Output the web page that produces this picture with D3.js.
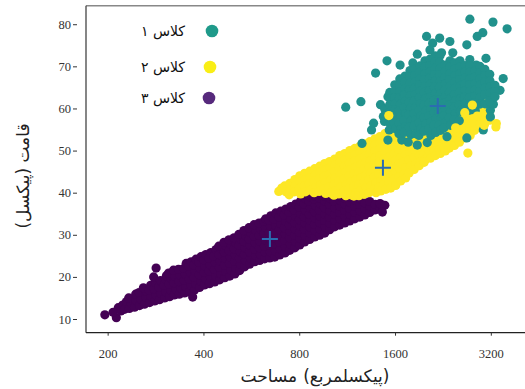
<!DOCTYPE html>
<html>
<head>
<meta charset="utf-8">
<script src="https://cdn.jsdelivr.net/npm/d3@7"></script>
<style>
  body { margin: 0; background: #fff; }
  svg { display: block; }
</style>
</head>
<body>
<div id="chart"></div>
<script>
// [area, height]
const class3Points = [
  [196,11.0],[213,10.3],[216,12.7],[208,11.6],[220,11.9],[223,13.3],[226,12.3],[229,14.1],
  [234,12.5],[237,13.8],[233,15.0],[243,12.8],[246,14.4],[245,15.9],[252,13.2],[255,14.7],[251,16.3],
  [261,13.5],[264,15.1],[263,16.7],[259,17.4],[271,13.9],[274,15.4],[270,16.9],[273,18.0],
  [281,14.3],[284,15.7],[280,17.2],[283,18.7],[279,20.0],[284,22.1],[291,14.6],[294,16.1],[290,17.6],[293,19.1],
  [302,15.0],[305,16.5],[301,18.0],[304,19.5],[306,20.3],[313,15.3],[316,16.8],[312,18.3],[315,19.8],[311,20.9],
  [324,15.7],[327,17.1],[323,18.6],[326,20.1],[322,21.6],[336,15.9],[339,17.4],[335,18.9],[338,20.4],[334,21.8],
  [349,16.2],[352,17.7],[348,19.2],[351,20.6],[347,22.0],[353,23.2],[362,16.5],[365,18.0],[361,19.5],[364,21.0],[360,22.5],[366,23.6],
  [375,16.9],[378,18.4],[374,19.9],[377,21.4],[373,22.9],[379,24.2],[370,15.2],
  [389,17.5],[392,19.0],[388,20.5],[391,22.0],[387,23.5],[393,24.8],[403,18.1],[406,19.6],[402,21.1],[405,22.6],[401,24.1],[407,25.3],
  [418,18.4],[421,19.9],[417,21.4],[420,22.9],[416,24.4],[422,25.8],[434,18.8],[437,20.3],[433,21.8],[436,23.4],[432,24.9],[438,26.5],
  [450,19.3],[453,20.8],[449,22.3],[452,23.8],[448,25.3],[454,26.8],[447,27.3],
  [467,19.8],[470,21.3],[466,22.8],[469,24.4],[465,25.9],[471,27.4],[464,28.2],
  [484,20.2],[487,21.7],[483,23.2],[486,24.7],[482,26.2],[488,27.7],[481,28.8],
  [502,20.7],[505,22.2],[501,23.7],[504,25.2],[500,26.7],[506,28.1],[499,29.3],
  [520,21.5],[523,23.0],[519,24.5],[522,26.0],[518,27.5],[524,29.0],[517,30.1],
  [539,22.4],[542,23.9],[538,25.4],[541,26.9],[537,28.4],[543,29.8],[536,31.0],
  [559,23.0],[562,24.5],[558,26.0],[561,27.5],[557,29.0],[563,30.5],[556,31.7],
  [580,23.6],[583,25.1],[579,26.6],[582,28.1],[578,29.6],[584,31.1],[577,32.4],
  [601,23.9],[604,25.4],[600,26.9],[603,28.4],[599,29.9],[605,31.4],[598,32.8],
  [623,24.3],[626,25.8],[622,27.3],[625,28.8],[621,30.3],[627,31.8],[620,33.2],[628,33.8],
  [646,24.5],[649,26.0],[645,27.5],[648,29.0],[644,30.5],[650,32.0],[643,33.5],[651,34.5],
  [670,24.7],[673,26.2],[669,27.7],[672,29.2],[668,30.7],[674,32.2],[667,33.7],[675,35.2],
  [695,25.2],[698,26.7],[694,28.2],[697,29.7],[693,31.2],[699,32.7],[692,34.2],[700,35.6],
  [721,25.7],[724,27.2],[720,28.7],[723,30.2],[719,31.7],[725,33.2],[718,34.7],[726,36.1],
  [747,26.3],[750,27.8],[746,29.3],[749,30.8],[745,32.3],[751,33.8],[744,35.3],[752,36.7],
  [775,26.9],[778,28.4],[774,29.9],[777,31.4],[773,32.9],[779,34.4],[772,35.9],[780,37.3],
  [803,27.6],[806,29.1],[802,30.6],[805,32.1],[801,33.6],[807,35.1],[800,36.6],[808,38.0],
  [832,28.3],[835,29.8],[831,31.3],[834,32.8],[830,34.3],[836,35.8],[829,37.3],[837,38.6],
  [863,28.9],[866,30.4],[862,31.9],[865,33.4],[861,34.9],[867,36.4],[860,37.9],[868,38.9],
  [895,29.5],[898,31.0],[894,32.5],[897,34.0],[893,35.5],[899,37.0],[892,38.5],[900,39.1],
  [928,29.9],[931,31.4],[927,32.9],[930,34.4],[926,35.9],[932,37.4],[925,38.8],
  [962,30.4],[965,31.9],[961,33.4],[964,34.9],[960,36.4],[966,37.9],[959,39.3],
  [997,31.2],[1000,32.7],[996,34.2],[999,35.7],[995,37.2],[1001,38.6],
  [1034,31.9],[1037,33.4],[1033,34.9],[1036,36.4],[1032,37.9],[1038,39.3],
  [1072,32.3],[1075,33.8],[1071,35.3],[1074,36.8],[1070,38.3],[1076,39.2],
  [1112,32.8],[1115,34.3],[1111,35.8],[1114,37.3],[1110,38.7],
  [1153,33.3],[1156,34.8],[1152,36.3],[1155,37.8],[1151,38.9],
  [1196,33.8],[1199,35.3],[1195,36.8],[1198,38.2],[1240,34.2],[1243,35.7],[1239,37.2],[1242,38.4],
  [1286,34.7],[1289,36.1],[1285,37.6],[1333,35.3],[1336,36.8],[1332,37.9],
  [1383,35.9],[1386,37.2],[1433,36.5],[1436,37.4],[1486,37.0],[1460,35.4]
];

const class2Points = [
  [705,41.1],[690,40.3],[720,41.6],[726,40.2],[747,42.2],[750,40.6],[744,39.5],
  [775,43.1],[778,41.6],[773,40.2],[803,44.0],[806,42.5],[801,41.0],[808,39.7],
  [832,44.6],[835,43.1],[830,41.6],[837,40.2],[863,45.1],[866,43.6],[861,42.1],[868,40.6],
  [895,45.7],[898,44.2],[893,42.7],[900,41.2],[891,40.0],[928,46.3],[931,44.8],[926,43.3],[933,41.8],[924,40.3],
  [962,46.9],[965,45.4],[960,43.9],[967,42.4],[958,40.9],[969,39.8],
  [997,47.4],[1000,45.9],[995,44.4],[1002,42.9],[993,41.4],[1004,39.9],
  [1034,48.0],[1037,46.5],[1032,45.0],[1039,43.5],[1030,42.0],[1041,40.5],[1028,39.4],
  [1072,48.8],[1075,47.3],[1070,45.8],[1077,44.3],[1068,42.8],[1079,41.3],[1066,39.7],
  [1112,49.3],[1115,47.8],[1110,46.3],[1117,44.8],[1108,43.3],[1119,41.8],[1106,40.3],[1121,39.3],
  [1153,50.0],[1156,48.5],[1151,47.0],[1158,45.5],[1149,44.0],[1160,42.5],[1147,41.0],[1162,39.5],
  [1196,50.5],[1199,49.0],[1194,47.5],[1201,46.0],[1192,44.5],[1203,43.0],[1190,41.5],[1205,40.0],[1188,39.2],
  [1240,51.0],[1243,49.5],[1238,48.0],[1245,46.5],[1236,45.0],[1247,43.5],[1234,42.0],[1249,40.5],[1232,39.3],
  [1286,51.6],[1289,50.1],[1284,48.6],[1291,47.1],[1282,45.6],[1293,44.1],[1280,42.6],[1295,41.1],[1278,39.6],
  [1333,52.1],[1336,50.6],[1331,49.1],[1338,47.6],[1329,46.1],[1340,44.6],[1327,43.1],[1342,41.6],[1325,40.0],
  [1383,52.8],[1386,51.3],[1381,49.8],[1388,48.3],[1379,46.8],[1390,45.3],[1377,43.8],[1392,42.3],[1375,40.8],[1394,40.0],
  [1433,53.3],[1436,51.8],[1431,50.3],[1438,48.8],[1429,47.3],[1440,45.8],[1427,44.3],[1442,42.8],[1425,41.3],[1444,40.4],
  [1486,54.0],[1489,52.5],[1484,51.0],[1491,49.5],[1482,48.0],[1493,46.5],[1480,45.0],[1495,43.5],[1478,42.0],[1497,40.8],
  [1540,54.5],[1543,53.0],[1538,51.5],[1545,50.0],[1536,48.5],[1547,47.0],[1534,45.5],[1549,44.0],[1532,42.5],[1551,41.1],
  [1597,55.2],[1600,53.7],[1595,52.2],[1602,50.7],[1593,49.2],[1604,47.7],[1591,46.2],[1606,44.7],[1589,43.2],[1608,41.7],
  [1656,55.8],[1659,54.3],[1654,52.8],[1661,51.3],[1652,49.8],[1663,48.3],[1650,46.8],[1665,45.3],[1648,43.8],[1667,42.8],
  [1717,56.4],[1720,54.9],[1715,53.4],[1722,51.9],[1713,50.4],[1724,48.9],[1711,47.4],[1726,45.9],[1709,44.4],[1728,43.5],
  [1780,56.8],[1783,55.3],[1778,53.8],[1785,52.3],[1776,50.8],[1787,49.3],[1774,47.8],[1789,46.3],[1772,44.7],
  [1846,57.3],[1849,55.8],[1844,54.3],[1851,52.8],[1842,51.3],[1853,49.8],[1840,48.3],[1855,46.8],[1838,45.5],
  [1914,57.8],[1917,56.3],[1912,54.8],[1919,53.3],[1910,51.8],[1921,50.3],[1908,48.8],[1923,47.3],[1906,46.4],
  [1984,58.3],[1987,56.8],[1982,55.3],[1989,53.8],[1980,52.3],[1991,50.8],[1978,49.3],[1993,47.9],[1976,47.2],
  [2058,58.7],[2061,57.2],[2056,55.7],[2063,54.2],[2054,52.7],[2065,51.2],[2052,49.7],[2067,48.2],
  [2134,59.0],[2137,57.5],[2132,56.0],[2139,54.5],[2130,53.0],[2141,51.5],[2128,50.0],[2143,48.8],
  [2212,59.2],[2215,57.7],[2210,56.2],[2217,54.7],[2208,53.2],[2219,51.7],[2206,50.2],[2221,49.3],
  [2294,59.7],[2297,58.2],[2292,56.7],[2299,55.2],[2290,53.7],[2301,52.2],[2288,50.7],[2303,49.9],
  [2378,59.9],[2381,58.4],[2376,56.9],[2383,55.4],[2374,53.9],[2385,52.4],[2372,50.6],
  [2466,60.2],[2469,58.7],[2464,57.2],[2471,55.7],[2462,54.2],[2473,52.7],[2460,51.2],
  [2557,60.4],[2560,58.9],[2555,57.4],[2562,55.9],[2553,54.4],[2564,52.9],[2551,52.0],
  [2651,60.6],[2654,59.1],[2649,57.6],[2656,56.1],[2647,54.6],[2658,53.0],
  [2749,60.7],[2752,59.2],[2747,57.7],[2754,56.2],[2745,54.7],[2756,53.6],[2710,49.4],
  [2850,60.9],[2853,59.4],[2848,57.9],[2855,56.4],[2846,54.8],
  [2955,61.0],[2958,59.5],[2953,58.0],[2960,56.5],[2951,55.5],
  [3064,61.1],[3067,59.6],[3062,58.1],[3069,56.6],[3176,61.1],[3179,59.6],[3174,58.1],[3181,57.2],[3320,55.6]
];

// yellow points that sit over the teal cluster in the picture
const class2Front = [[1530,58.3],[2800,60.8],[2650,59.0],[2900,58.2],[3050,56.0],[3330,56.4],[2480,55.4]];

const class1Points = [
  [2750,81.2],[3250,80.5],[3600,78.9],[3020,78.0],[2900,77.1],[2690,75.1],[2010,77.1],[2210,76.7],[2380,75.9],[2100,75.5],
  [1880,72.9],[2060,73.9],[2240,73.2],[2430,73.2],[1510,71.3],[1390,68.4],[1660,70.3],[1820,70.8],[3090,71.9],[2880,70.3],
  [3500,67.1],[3190,59.6],[1120,60.3],[1250,61.6],[1520,62.8],[1350,54.9],[1260,51.7],[1470,58.1],[1880,51.3],
  [1370,56.5],[1520,52.5],[1680,52.5],[2330,53.3],[2690,53.0],[3030,54.9],[3190,58.0],[1760,52.0],[2020,51.9],
  [3420,64.3],[3260,61.0],[1440,60.9],
  [1486,59.8],[1489,58.2],[1483,56.9],
  [1540,63.8],[1543,62.3],[1538,60.8],[1545,59.3],[1536,57.8],[1547,56.3],[1534,54.9],
  [1597,65.6],[1600,64.1],[1595,62.6],[1602,61.1],[1593,59.6],[1604,58.1],[1591,56.6],[1606,55.2],
  [1656,67.0],[1654,65.5],[1661,64.0],[1652,62.5],[1663,61.0],[1650,59.5],[1665,58.0],[1648,56.5],[1667,55.0],[1646,54.0],
  [1720,67.7],[1715,66.2],[1722,64.7],[1713,63.2],[1724,61.7],[1711,60.2],[1726,58.7],[1709,57.2],[1728,55.7],[1707,54.3],
  [1783,69.0],[1778,67.5],[1785,66.0],[1776,64.5],[1787,63.0],[1774,61.5],[1789,60.0],[1772,58.5],[1791,57.0],[1770,55.5],[1793,53.8],
  [1849,69.3],[1844,67.8],[1851,66.3],[1842,64.8],[1853,63.3],[1840,61.8],[1855,60.3],[1838,58.8],[1857,57.3],[1836,55.8],[1859,54.0],
  [1917,70.1],[1912,68.6],[1919,67.1],[1910,65.6],[1921,64.1],[1908,62.6],[1923,61.1],[1906,59.6],[1925,58.1],[1904,56.6],[1927,55.1],[1902,53.6],
  [1987,71.3],[1982,69.8],[1989,68.3],[1980,66.8],[1991,65.3],[1978,63.8],[1993,62.3],[1976,60.8],[1995,59.3],[1974,57.8],[1997,56.3],[1972,54.6],
  [2061,71.7],[2056,70.2],[2063,68.7],[2054,67.2],[2065,65.7],[2052,64.2],[2067,62.7],[2050,61.2],[2069,59.7],[2048,58.2],[2071,56.7],[2046,55.2],[2073,53.6],
  [2137,72.5],[2132,71.0],[2139,69.5],[2130,68.0],[2141,66.5],[2128,65.0],[2143,63.5],[2126,62.0],[2145,60.5],[2124,59.0],[2147,57.5],[2122,56.0],[2149,54.3],
  [2215,72.5],[2210,71.0],[2217,69.5],[2208,68.0],[2219,66.5],[2206,65.0],[2221,63.5],[2204,62.0],[2223,60.5],[2202,59.0],[2225,57.5],[2200,56.0],[2227,54.8],
  [2292,70.3],[2299,68.8],[2290,67.3],[2301,65.8],[2288,64.3],[2303,62.8],[2286,61.3],[2305,59.8],[2284,58.3],[2307,56.8],[2282,55.4],
  [2381,71.3],[2376,69.8],[2383,68.3],[2374,66.8],[2385,65.3],[2372,63.8],[2387,62.3],[2370,60.8],[2389,59.3],[2368,57.8],[2391,56.0],
  [2469,70.8],[2464,69.3],[2471,67.8],[2462,66.3],[2473,64.8],[2460,63.3],[2475,61.8],[2458,60.3],[2477,58.8],[2456,57.3],
  [2560,71.3],[2555,69.8],[2562,68.3],[2553,66.8],[2564,65.3],[2551,63.8],[2566,62.3],[2549,60.8],[2568,59.3],[2547,57.1],
  [2654,70.2],[2649,68.7],[2656,67.2],[2647,65.7],[2658,64.2],[2645,62.7],[2660,61.2],[2643,59.7],
  [2749,71.6],[2752,70.1],[2747,68.6],[2754,67.1],[2745,65.6],[2756,64.1],[2743,62.6],[2758,61.1],[2741,59.6],
  [2853,68.9],[2848,67.4],[2855,65.9],[2846,64.4],[2857,62.9],[2844,61.4],[2859,59.5],
  [2955,70.0],[2958,68.5],[2953,67.0],[2960,65.5],[2951,64.0],[2962,62.5],[2949,61.0],
  [3064,69.3],[3067,67.8],[3062,66.3],[3069,64.8],[3060,63.3],[3071,61.1],
  [3176,68.1],[3179,66.6],[3174,65.1],[3181,63.6],[3172,61.8],
  [3297,65.5],[3292,64.0],[3299,62.8]
];

const centroids = [[2180, 60.6], [1466, 45.9], [647, 29.0]];
const classLabels = ["کلاس ۱", "کلاس ۲", "کلاس ۳"];
const xTicks = [200, 400, 800, 1600, 3200];
const yTicks = [10, 20, 30, 40, 50, 60, 70, 80];
const xTitleParts = ["مساحت", "(پیکسلمربع)"];
const yTitle = "قامت (پیکسل)";

const width = 525, height = 389;
const colors = ["#21918c", "#fde725", "#440154"];
const legendColors = ["#1f9a8a", "#f9ee16", "#56297c"];
const serif = "'Liberation Serif', 'Times New Roman', 'DejaVu Serif', serif";
const persian = "'DejaVu Sans', sans-serif";

const svg = d3.select("#chart").append("svg")
  .attr("width", width).attr("height", height);

const x = d3.scaleLog().domain([171, 4010]).range([86, 522]);
const y = d3.scaleLinear().domain([6.75, 84.4]).range([332.7, 5.7]);

// purple, yellow, teal on top, then the few yellow points that overlap teal
const layers = [
  [class3Points, colors[2]],
  [class2Points, colors[1]],
  [class1Points, colors[0]],
  [class2Front, colors[1]]
];
layers.forEach(([pts, c]) => {
  svg.append("g").selectAll("circle").data(pts).enter().append("circle")
    .attr("cx", d => x(d[0])).attr("cy", d => y(d[1]))
    .attr("r", 4.6).attr("fill", c);
});

// centroid markers
svg.append("g").selectAll("path").data(centroids).enter().append("path")
  .attr("d", d => `M${x(d[0]) - 8},${y(d[1])}H${x(d[0]) + 8}M${x(d[0])},${y(d[1]) - 8}V${y(d[1]) + 8}`)
  .attr("stroke", "#2b6cb0").attr("stroke-width", 2).attr("fill", "none");

// frame
svg.append("line").attr("x1", 86).attr("x2", 526).attr("y1", 5.7).attr("y2", 5.7)
  .attr("stroke", "#888").attr("stroke-width", 1.5);
svg.append("line").attr("x1", 86).attr("x2", 86).attr("y1", 5.7).attr("y2", 332.7)
  .attr("stroke", "#444").attr("stroke-width", 1.3);
svg.append("line").attr("x1", 86).attr("x2", 526).attr("y1", 332.7).attr("y2", 332.7)
  .attr("stroke", "#222").attr("stroke-width", 1.3);

// axes
const xAxis = svg.append("g").attr("transform", "translate(0,332.7)")
  .call(d3.axisBottom(x).tickValues(xTicks).tickFormat(d3.format("d")).tickSize(3).tickPadding(13));
const yAxis = svg.append("g").attr("transform", "translate(77,0)")
  .call(d3.axisLeft(y).tickValues(yTicks).tickSize(4).tickPadding(2));
[xAxis, yAxis].forEach(g => {
  g.attr("font-family", serif).attr("font-size", 12.5);
  g.select(".domain").remove();
  g.selectAll("line").attr("stroke", "#333");
  g.selectAll("text").attr("fill", "#333").style("font-family", serif).style("font-size", "12.5px");
});

// legend
const legendRows = [31, 67, 98];
const legendX = [212, 210, 209];
const leg = svg.append("g");
classLabels.forEach((t, i) => {
  leg.append("circle").attr("cx", legendX[i]).attr("cy", legendRows[i]).attr("r", 6.3)
    .attr("fill", legendColors[i]);
  leg.append("text").attr("x", 185).attr("y", legendRows[i] + 5)
    .attr("text-anchor", "end")
    .style("font-family", persian).style("font-size", "14px")
    .attr("fill", "#111").text(t);
});

// x title: first word on the left, as drawn in the picture (middle anchors keep order fixed)
const xt = svg.append("g");
const xa = xt.append("text").attr("y", 382).attr("text-anchor", "middle")
  .style("font-family", persian).style("font-size", "17px").attr("fill", "#222").text(xTitleParts[0]);
const xb = xt.append("text").attr("y", 382).attr("text-anchor", "middle")
  .style("font-family", persian).style("font-size", "17px").attr("fill", "#222").text(xTitleParts[1]);
const wa = xa.node().getComputedTextLength(), wb = xb.node().getComputedTextLength();
const gap = 6, x0 = 315 - (wa + gap + wb) / 2;
xa.attr("x", x0 + wa / 2);
xb.attr("x", x0 + wa + gap + wb / 2);

svg.append("text").attr("transform", "translate(29,176) rotate(-90)").attr("text-anchor", "middle")
  .style("font-family", persian).style("font-size", "17px")
  .attr("fill", "#222").text(yTitle);
</script>
</body>
</html>
